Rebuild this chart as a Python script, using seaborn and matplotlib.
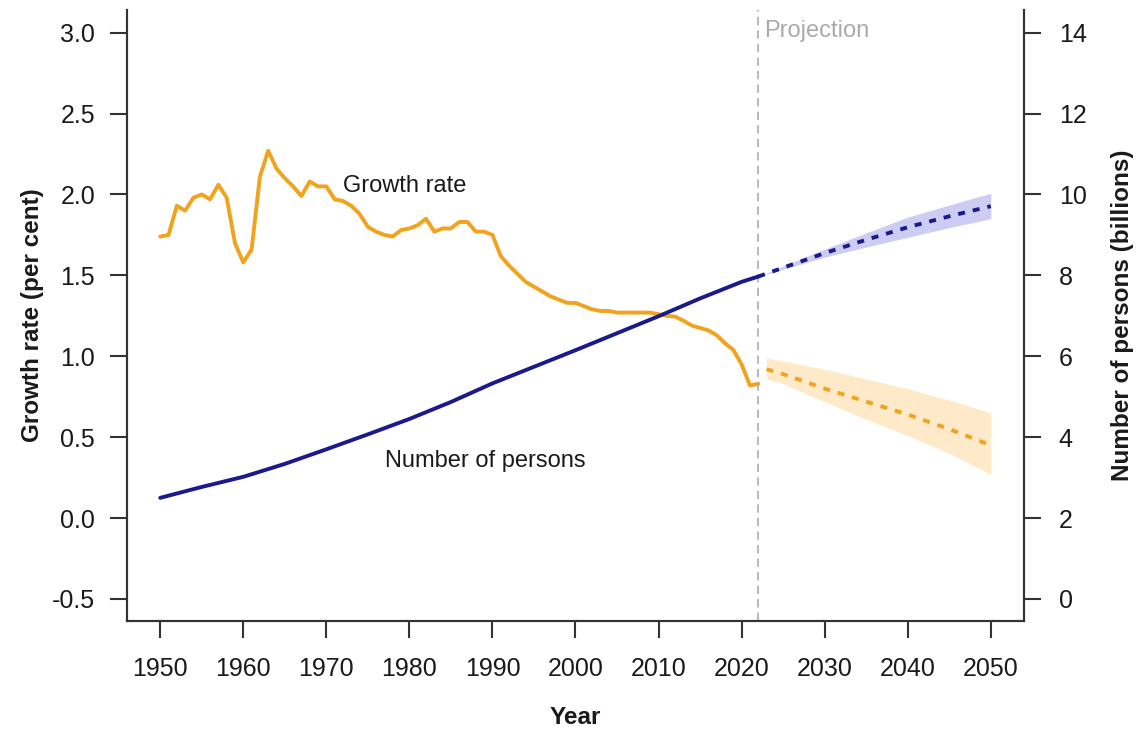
import numpy as np
import pandas as pd
import matplotlib
matplotlib.use("Agg")
import matplotlib.pyplot as plt
import seaborn as sns

# ---------------- data ----------------
hist_years = list(range(1950, 2023))
growth_rate = [1.74, 1.75, 1.93, 1.90, 1.98, 2.00, 1.97, 2.06, 1.98, 1.70,
               1.58, 1.66, 2.11, 2.27, 2.16, 2.10, 2.05, 1.99, 2.08, 2.05,
               2.05, 1.97, 1.96, 1.93, 1.88, 1.80, 1.77, 1.75, 1.74, 1.78,
               1.79, 1.81, 1.85, 1.77, 1.79, 1.79, 1.83, 1.83, 1.77, 1.77,
               1.75, 1.62, 1.56, 1.51, 1.46, 1.43, 1.40, 1.37, 1.35, 1.33,
               1.33, 1.31, 1.29, 1.28, 1.28, 1.27, 1.27, 1.27, 1.27, 1.27,
               1.26, 1.25, 1.245, 1.22, 1.19, 1.175, 1.16, 1.13, 1.08, 1.04,
               0.95, 0.82, 0.83]

pop_years = [1950, 1955, 1960, 1965, 1970, 1975, 1980, 1985, 1990, 1995,
             2000, 2005, 2010, 2015, 2020, 2022]
population = [2.50, 2.77, 3.02, 3.34, 3.70, 4.07, 4.45, 4.87, 5.33, 5.74,
              6.15, 6.57, 6.99, 7.43, 7.84, 7.97]

proj_rate_years = [2023, 2025, 2030, 2035, 2040, 2045, 2050]
proj_rate = [0.92, 0.89, 0.80, 0.72, 0.64, 0.55, 0.45]
proj_rate_low = [0.86, 0.83, 0.72, 0.61, 0.51, 0.40, 0.27]
proj_rate_high = [0.99, 0.97, 0.92, 0.86, 0.80, 0.73, 0.65]

proj_pop_years = [2022, 2025, 2030, 2035, 2040, 2045, 2050]
proj_pop = [7.97, 8.19, 8.55, 8.88, 9.19, 9.46, 9.71]
proj_pop_low = [7.97, 8.15, 8.45, 8.70, 8.94, 9.18, 9.40]
proj_pop_high = [7.97, 8.23, 8.65, 9.05, 9.44, 9.74, 10.03]

x_ticks = [1950, 1960, 1970, 1980, 1990, 2000, 2010, 2020, 2030, 2040, 2050]
left_ticks = [-0.5, 0.0, 0.5, 1.0, 1.5, 2.0, 2.5, 3.0]
right_ticks = [0, 2, 4, 6, 8, 10, 12, 14]
projection_start = 2022

# ---------------- style ----------------
sns.set_theme(style="ticks")
plt.rcParams["font.family"] = ["Liberation Sans", "DejaVu Sans"]

ORANGE = "#F2A31D"
NAVY = "#1A1A8C"
ORANGE_BAND = "#FEEAC8"
NAVY_BAND = "#CDCDF3"
AXCOL = "#333333"
TXT = "#1A1A1A"

fig = plt.figure(figsize=(11.43, 7.30), dpi=100)
ax = fig.add_axes([127 / 1143, 1 - 621 / 730, 897 / 1143, 611 / 730])
ax2 = ax.twinx()

df_hist = pd.DataFrame({"year": hist_years, "rate": growth_rate})
df_pop = pd.DataFrame({"year": pop_years, "pop": population})
df_prate = pd.DataFrame({"year": proj_rate_years, "rate": proj_rate,
                         "lo": proj_rate_low, "hi": proj_rate_high})
df_ppop = pd.DataFrame({"year": proj_pop_years, "pop": proj_pop,
                        "lo": proj_pop_low, "hi": proj_pop_high})

# projection line
ax.axvline(projection_start, color="#BBBBBB", lw=1.5, ls=(0, (4, 2.5)), zorder=1)

# bands
ax.fill_between(df_prate["year"], df_prate["lo"], df_prate["hi"],
                color=ORANGE_BAND, lw=0, zorder=0.5)
ax2.fill_between(df_ppop["year"], df_ppop["lo"], df_ppop["hi"],
                 color=NAVY_BAND, lw=0, zorder=0.5)

LW = 2.8
dash = (0, (1.8, 2.05))
sns.lineplot(data=df_hist, x="year", y="rate", ax=ax, color=ORANGE,
             lw=LW, errorbar=None, zorder=3)
sns.lineplot(data=df_prate, x="year", y="rate", ax=ax, color=ORANGE,
             lw=LW, errorbar=None, linestyle=dash, zorder=3)
sns.lineplot(data=df_pop, x="year", y="pop", ax=ax2, color=NAVY,
             lw=LW, errorbar=None, zorder=3)
sns.lineplot(data=df_ppop, x="year", y="pop", ax=ax2, color=NAVY,
             lw=LW, errorbar=None, linestyle=dash, zorder=3)

# axes limits
ax.set_xlim(1946, 2054)
ax.set_ylim(-0.636, 3.14)
ax2.set_ylim(4 * -0.636 + 2, 4 * 3.14 + 2)

ax.set_xticks(x_ticks)
ax.set_xticklabels([str(t) for t in x_ticks])
ax.set_yticks(left_ticks)
ax.set_yticklabels([f"{t:.1f}" for t in left_ticks])
ax2.set_yticks(right_ticks)
ax2.set_yticklabels([str(t) for t in right_ticks])

for a in (ax, ax2):
    a.spines["top"].set_visible(False)
    for s in a.spines.values():
        s.set_linewidth(1.5)
        s.set_color(AXCOL)
    a.tick_params(axis="both", direction="out", length=12, width=1.5,
                  color=AXCOL, labelcolor=TXT, labelsize=18)
    a.grid(False)
    a.set_facecolor("none")
ax.tick_params(axis="y", pad=11)
ax.tick_params(axis="x", pad=14)
ax2.tick_params(axis="y", pad=13)

ax.set_xlabel("Year", fontsize=17.5, fontweight="bold", color=TXT, va="center")
ax.xaxis.set_label_coords(0.5, (621 - 718) / 611)
ax.set_ylabel("Growth rate (per cent)", fontsize=17.5, fontweight="bold",
              color=TXT, va="center")
ax.yaxis.set_label_coords((32 - 127) / 897, 0.5)
ax2.set_ylabel("Number of persons (billions)", fontsize=17.5, fontweight="bold",
               color=TXT, va="center", rotation=90)
ax2.yaxis.set_label_coords((1123 - 127) / 897, 0.5)

# annotations
ax.text(1972.0, 2.05, "Growth rate", fontsize=17, color=TXT,
        ha="left", va="center")
ax.text(1977.1, 0.353, "Number of persons", fontsize=17, color=TXT,
        ha="left", va="center")
ax.text(2022.7, 3.01, "Projection", fontsize=17, color="#AAAAAA",
        ha="left", va="center")

fig.savefig("out.png", dpi=100)
